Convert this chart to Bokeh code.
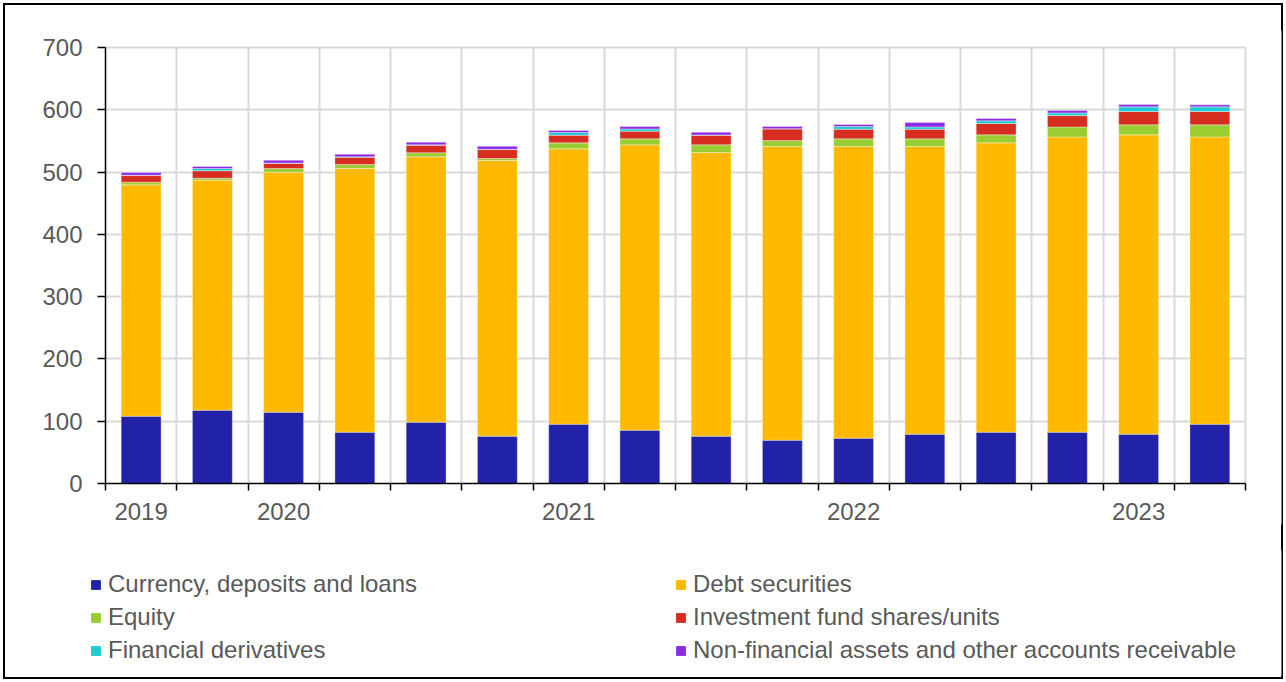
from bokeh.plotting import figure
from bokeh.layouts import column
from bokeh.models import Range1d, FixedTicker, Legend, LegendItem, ColumnDataSource, InlineStyleSheet
from bokeh.embed import file_html
from bokeh.resources import INLINE

quarters = ["2019Q3", "2019Q4", "2020Q1", "2020Q2", "2020Q3", "2020Q4",
            "2021Q1", "2021Q2", "2021Q3", "2021Q4", "2022Q1", "2022Q2",
            "2022Q3", "2022Q4", "2023Q1", "2023Q2"]
currency = [108.0, 117.7, 114.5, 82.4, 98.4, 76.0, 95.2, 85.6, 76.0, 69.5, 72.7, 79.2, 82.4, 82.4, 79.2, 95.2]
debt = [371.5, 369.3, 385.3, 423.3, 426.1, 442.5, 442.1, 458.1, 455.4, 471.5, 468.3, 461.8, 464.6, 474.1, 480.6, 461.3]
equity = [4.2, 3.2, 5.9, 6.4, 6.4, 3.2, 9.6, 9.6, 12.3, 9.6, 12.3, 12.3, 12.8, 16.0, 16.0, 19.3]
inv_fund = [10.7, 11.9, 8.5, 11.8, 12.3, 14.4, 12.3, 12.3, 15.5, 18.7, 15.5, 15.5, 18.2, 18.2, 21.4, 21.4]
derivatives = [0.5, 3.7, 0.5, 0.5, 0.5, 0.5, 4.3, 3.7, 0.5, 0.3, 4.3, 3.7, 4.3, 4.3, 7.5, 7.5]
other = [4.3, 3.2, 4.3, 4.3, 4.3, 4.8, 3.2, 3.7, 4.3, 3.7, 3.2, 7.0, 3.7, 3.7, 3.7, 3.2]

series_names = ["Currency, deposits and loans", "Debt securities", "Equity",
                "Investment fund shares/units", "Financial derivatives",
                "Non-financial assets and other accounts receivable"]
series_keys = ["currency", "debt", "equity", "inv_fund", "derivatives", "other"]
colors = ["#2222A8", "#FFB900", "#9ACD32", "#D62D20", "#1ECBD3", "#8A2BE2"]
y_ticks = [0, 100, 200, 300, 400, 500, 600, 700]
y_max = 700

n = len(quarters)
xpos = [i + 0.5 for i in range(n)]
source = ColumnDataSource(dict(x=xpos, currency=currency, debt=debt, equity=equity,
                               inv_fund=inv_fund, derivatives=derivatives, other=other))

label_pos = {}
for i, q in enumerate(quarters):
    if i == 0 or q.endswith("Q1"):
        label_pos[xpos[i]] = q[:4]

# ---- layout constants (pixels) ----
W = 1286
H1, H2 = 550, 132
AX_LEFT, AX_RIGHT = 105, 1245      # plot area x extent
AX_TOP, AX_BOTTOM = 47, 483        # plot area y extent
FR_LEFT, FR_RIGHT, FR_TOP, FR_BOTTOM = 30, 1281, 30, 524
FONT = "Liberation Sans"
TXT = "#595959"

px_x = (AX_RIGHT - AX_LEFT) / n
px_y = (AX_BOTTOM - AX_TOP) / y_max
x_start = -(AX_LEFT - FR_LEFT) / px_x
x_end = n + (FR_RIGHT - AX_RIGHT) / px_x
y_start = -(FR_BOTTOM - AX_BOTTOM) / px_y
y_end = y_max + (AX_TOP - FR_TOP) / px_y

p = figure(width=W, height=H1, output_backend="svg", toolbar_location=None,
           x_range=Range1d(x_start, x_end), y_range=Range1d(y_start, y_end),
           min_border_left=FR_LEFT, min_border_top=FR_TOP, min_border_right=W - FR_RIGHT,
           min_border_bottom=H1 - FR_BOTTOM)
p.background_fill_color = "white"
p.border_fill_color = None
p.outline_line_color = None

renderers = p.vbar_stack(series_keys, x="x", width=0.56, source=source, color=colors,
                         line_color="white", line_width=1, line_alpha=0.35)

p.ygrid.ticker = FixedTicker(ticks=y_ticks[1:])
p.xgrid.ticker = FixedTicker(ticks=list(range(1, n + 1)))
for g in (p.xgrid, p.ygrid):
    g.grid_line_color = "#d9d9d9"
    g.grid_line_width = 2
try:
    p.ygrid.cross_bounds = (0, n)
    p.xgrid.cross_bounds = (0, y_max)
except AttributeError:
    pass

ya = p.yaxis[0]
ya.fixed_location = 0
ya.bounds = (0, y_max)
ya.ticker = FixedTicker(ticks=y_ticks)
ya.axis_line_color = "black"
ya.axis_line_width = 1.5
ya.major_tick_line_color = "black"
ya.major_tick_line_width = 1.5
ya.major_tick_in = 0
ya.major_tick_out = 8
ya.minor_tick_line_color = None
ya.major_label_standoff = 15
ya.major_label_text_font = FONT
ya.major_label_text_font_size = "24px"
ya.major_label_text_color = TXT

xa = p.xaxis[0]
xa.fixed_location = 0
xa.bounds = (0, n)
xa.ticker = FixedTicker(ticks=list(label_pos.keys()), minor_ticks=list(range(0, n + 1)))
xa.major_label_overrides = label_pos
xa.axis_line_color = "black"
xa.axis_line_width = 1.5
xa.major_tick_line_color = None
xa.major_tick_in = 0
xa.major_tick_out = 7
xa.minor_tick_line_color = "black"
xa.minor_tick_line_width = 1.5
xa.minor_tick_in = 0
xa.minor_tick_out = 7
xa.major_label_standoff = 12
xa.major_label_text_font = FONT
xa.major_label_text_font_size = "24px"
xa.major_label_text_color = TXT

# ---- legend strip ----
P2_BOTTOM = 7
p2 = figure(width=W, height=H2, output_backend="svg", toolbar_location=None,
            x_range=Range1d(0, 1), y_range=Range1d(0, 1),
            x_axis_type=None, y_axis_type=None,
            min_border_left=FR_LEFT, min_border_right=W - FR_RIGHT,
            min_border_top=0, min_border_bottom=P2_BOTTOM)
p2.grid.visible = False
p2.outline_line_color = None
p2.background_fill_color = "white"
p2.border_fill_color = None
dummies = [p2.vbar(x=[5.0], top=[1.0], width=0.1, color=c) for c in colors]

LEG_BOTTOM = 666.5  # absolute y of legend bottom edge

def make_legend(idx, glyph_left):
    lg = Legend(items=[LegendItem(label=series_names[i], renderers=[dummies[i]]) for i in idx],
                location=(glyph_left - FR_LEFT, (682 - P2_BOTTOM) - LEG_BOTTOM),
                orientation="vertical",
                glyph_width=11, glyph_height=11, label_standoff=7,
                label_height=33, spacing=0, padding=0, margin=0,
                border_line_color=None, background_fill_alpha=0,
                label_text_font=FONT, label_text_font_size="24px",
                label_text_color=TXT)
    p2.add_layout(lg, "center")

make_legend([0, 2, 4], 90)
make_legend([1, 3, 5], 675)

frame_css = InlineStyleSheet(css=":host { outline: 2px solid black; outline-offset: -5px; }")
layout = column(p, p2, spacing=0, stylesheets=[frame_css])

open("out.html", "w").write(file_html(layout, INLINE))
